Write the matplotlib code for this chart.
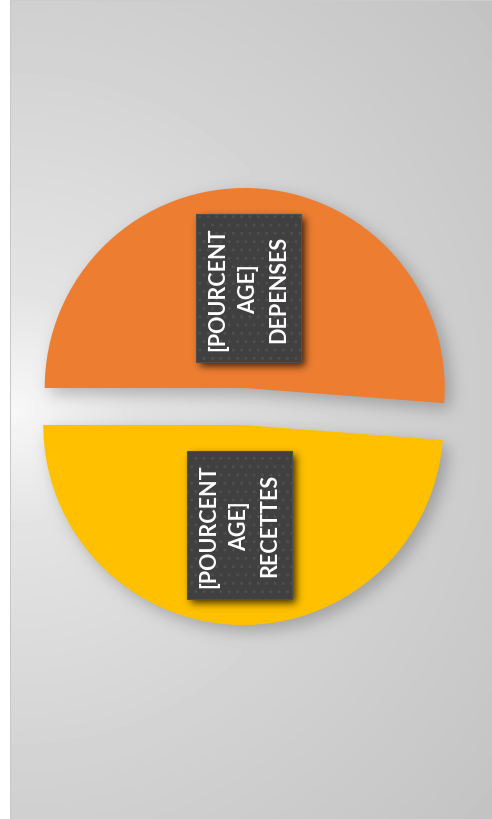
import numpy as np
import matplotlib.pyplot as plt

# donnees du camembert
categories = ["DEPENSES", "RECETTES"]
shares = [51.2, 48.8]
slice_colors = ["#ED7D31", "#FFC000"]
label_prefix = "[POURCENT\nAGE]\n"

W, H = 492, 820


def blur(a, sigma):
    """Flou gaussien separable (numpy seulement)."""
    k = np.arange(-3 * sigma, 3 * sigma + 1)
    k = np.exp(-0.5 * (k / sigma) ** 2)
    k /= k.sum()
    a = np.apply_along_axis(lambda v: np.convolve(v, k, mode="same"), 0, a)
    a = np.apply_along_axis(lambda v: np.convolve(v, k, mode="same"), 1, a)
    return a


fig = plt.figure(figsize=(W / 100, H / 100), dpi=100, facecolor="white")
ax = fig.add_axes([0, 0, 1, 1])

# explode en unites de donnees (pixels ici)
wedges, texts = ax.pie(
    shares,
    labels=[label_prefix + c for c in categories],
    colors=slice_colors,
    explode=[18.5] * len(shares),
    startangle=180,
    counterclock=False,
    radius=200,
    center=(244, 412.5),
    labeldistance=0.5,
    frame=True,
    wedgeprops=dict(linewidth=0, zorder=2),
)

# fond degrade radial + ombre du camembert
xs = np.arange(W) + 0.5
ys = np.arange(H) + 0.5
X, Y = np.meshgrid(xs, ys)
d = np.hypot(X - 15, Y - 410)
bg = np.interp(d, [0, 120, 380, 650], [0.97, 0.89, 0.82, 0.76])

pts = np.column_stack([X.ravel(), Y.ravel()])
mask = np.zeros(W * H, dtype=bool)
for w in wedges:
    mask |= w.get_path().contains_points(pts)
mask = mask.reshape(H, W).astype(float)
sh = np.roll(np.roll(mask, 6, axis=1), -6, axis=0)
bg = bg * (1 - 0.24 * blur(sh, 8))

bg[:, :10] = 1.0
bg[:, 10] = 0.78
bg[H - 2, 10:] = 0.8

ax.imshow(bg, cmap="gray", vmin=0, vmax=1, extent=(0, W, 0, H),
          origin="lower", zorder=0, interpolation="nearest")

for t in texts:
    t.set(rotation=90, ha="center", va="center", color="white",
          fontweight="bold", fontsize=15.5, family=["Lato", "DejaVu Sans"],
          linespacing=1.55, multialignment="center", zorder=4)
    t.set_bbox(dict(boxstyle="square,pad=0.55", facecolor="#404040",
                    edgecolor="#4e4e4e", hatch="..", linewidth=0.8))

ax.set_xlim(0, W)
ax.set_ylim(0, H)
ax.set_aspect("auto")
ax.axis("off")

# ombre des etiquettes
fig.canvas.draw()
inv = ax.transData.inverted()
bmask = np.zeros((H, W))
for t in texts:
    ext = t.get_bbox_patch().get_window_extent()
    (x0, y0), (x1, y1) = inv.transform([[ext.x0, ext.y0], [ext.x1, ext.y1]])
    bmask[(X > x0 + 4) & (X < x1 + 4) & (Y > y0 - 4) & (Y < y1 - 4)] = 1
bs = blur(bmask, 4)
shadow = np.zeros((H, W, 4))
shadow[..., 3] = 0.75 * bs
ax.imshow(shadow, extent=(0, W, 0, H), origin="lower", zorder=3,
          interpolation="bilinear")
ax.set_xlim(0, W)
ax.set_ylim(0, H)
ax.set_aspect("auto")

fig.savefig("out.png", dpi=100, facecolor="white")
